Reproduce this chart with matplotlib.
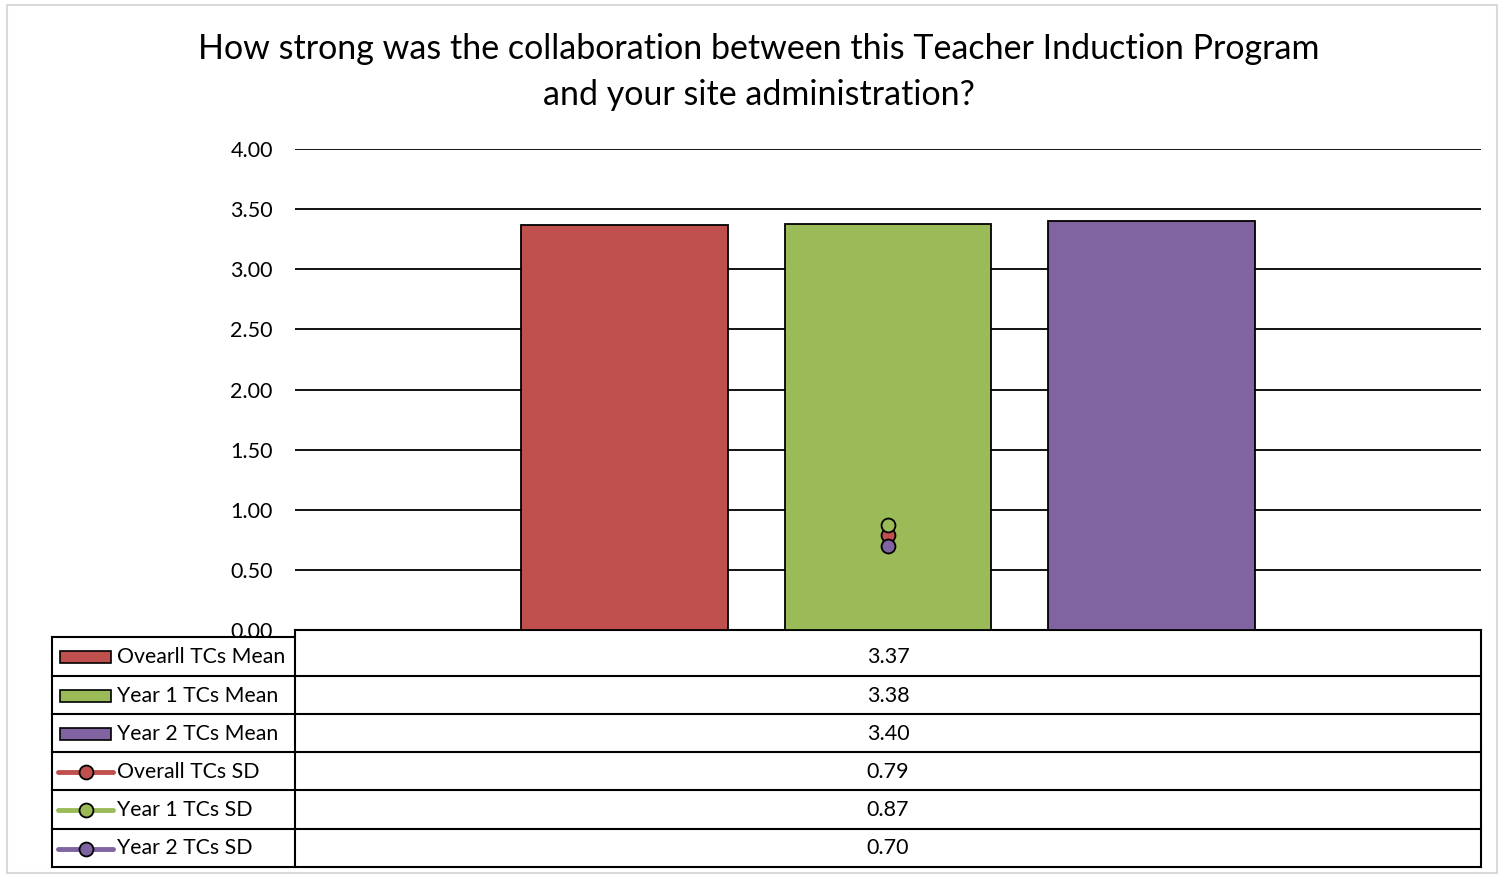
import matplotlib.pyplot as plt
from matplotlib.patches import Rectangle
from matplotlib.lines import Line2D

# data
mean_labels = ["Ovearll TCs Mean", "Year 1 TCs Mean", "Year 2 TCs Mean"]
sd_labels = ["Overall TCs SD", "Year 1 TCs SD", "Year 2 TCs SD"]
means = [3.37, 3.38, 3.40]
sds = [0.79, 0.87, 0.70]
colors = ["#C0504D", "#9BBB59", "#8064A2"]
yticks = [0, 0.5, 1.0, 1.5, 2.0, 2.5, 3.0, 3.5, 4.0]

plt.rcParams['font.family'] = ['Lato', 'DejaVu Sans']

W, H = 1499, 875
fig = plt.figure(figsize=(W / 100, H / 100), dpi=100)

# overlay axes in pixel coordinates for the table and border
ov = fig.add_axes([0, 0, 1, 1], zorder=0)
ov.set_xlim(0, W)
ov.set_ylim(H, 0)
ov.axis('off')

# main plot area
x0, x1, ytop, ybot = 295, 1481, 149, 630
ax = fig.add_axes([x0 / W, 1 - ybot / H, (x1 - x0) / W, (ybot - ytop) / H], zorder=1)
ax.patch.set_alpha(0)

offsets = [-0.2218, 0, 0.2218]
bw = 0.1745
for off, m, c in zip(offsets, means, colors):
    ax.bar(off, m, width=bw, color=c, edgecolor='black', linewidth=1.3, zorder=3)
for s, c in zip(sds, colors):
    ax.plot([0], [s], marker='o', markersize=10, markerfacecolor=c,
            markeredgecolor='black', markeredgewidth=1.3, linestyle='none', zorder=4)

ax.set_xlim(-0.5, 0.5)
ax.set_ylim(0, 4)
ax.set_yticks(yticks)
ax.set_yticklabels(["%.2f" % t for t in yticks], fontsize=15.5)
ax.tick_params(axis='y', length=0, pad=16)
ax.set_xticks([])
ax.grid(axis='y', color='black', linewidth=1.3, zorder=0)
for sp in ax.spines.values():
    sp.set_visible(False)

fig.text(0.506, 1 - 49 / H, "How strong was the collaboration between this Teacher Induction Program",
         ha='center', va='center', fontsize=24.5)
fig.text(0.506, 1 - 95 / H, "and your site administration?",
         ha='center', va='center', fontsize=24.5)

# outer chart border
ov.add_patch(Rectangle((7, 5), 1490, 868, fill=False, edgecolor='#d9d9d9', linewidth=1.5))

# data table
lx0 = 52
rows = [637, 676, 714, 752, 790, 829, 867]
lw = 1.5
ov.plot([x0, x1], [630, 630], color='black', lw=lw)
ov.plot([x0, x0], [630, 867], color='black', lw=lw)
ov.plot([x1, x1], [630, 867], color='black', lw=lw)
ov.plot([lx0, lx0], [637, 867], color='black', lw=lw)
ov.plot([lx0, x0], [637, 637], color='black', lw=lw)
for r in rows[1:]:
    ov.plot([lx0, x1], [r, r], color='black', lw=lw)

labels = mean_labels + sd_labels
values = means + sds
for i, (lab, val) in enumerate(zip(labels, values)):
    yc = (rows[i] + rows[i + 1]) / 2 + 0.5
    c = colors[i % 3]
    if i < 3:
        ov.add_patch(Rectangle((60, yc - 6), 51, 12, facecolor=c, edgecolor='black', linewidth=1.2))
    else:
        ov.add_line(Line2D([58, 113], [yc, yc], color=c, lw=3.5, solid_capstyle='round'))
        ov.plot([86], [yc], marker='o', markersize=10, markerfacecolor=c,
                markeredgecolor='black', markeredgewidth=1.3)
    ov.text(117, yc, lab, ha='left', va='center', fontsize=15.3)
    ov.text((x0 + x1) / 2, yc, "%.2f" % val, ha='center', va='center', fontsize=15.5)

fig.savefig("out.png", dpi=100)
